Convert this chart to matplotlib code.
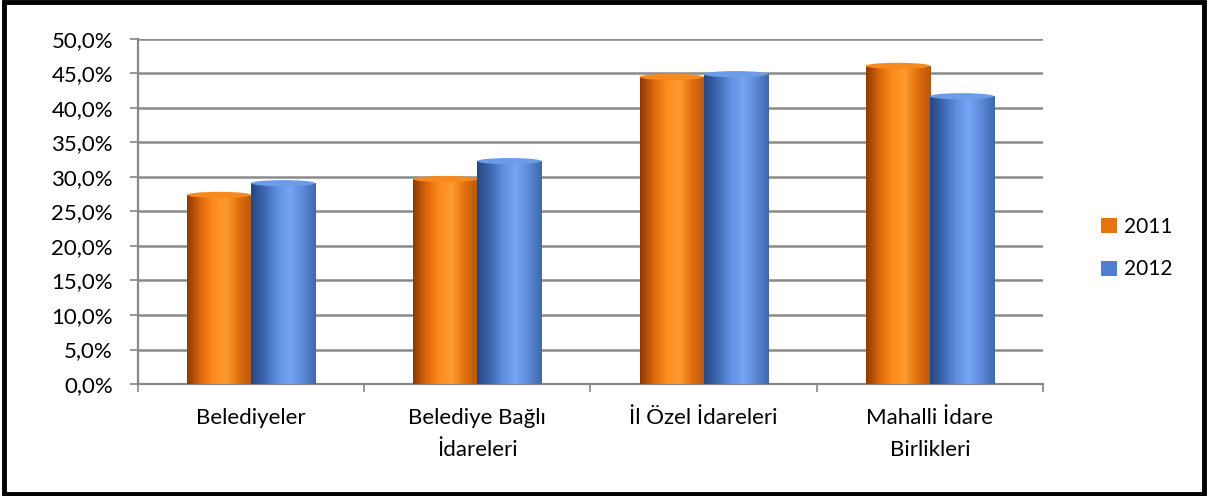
import numpy as np
import matplotlib
matplotlib.use("Agg")
import matplotlib.pyplot as plt
from matplotlib.colors import LinearSegmentedColormap
from matplotlib.patches import Ellipse, Rectangle
from matplotlib.ticker import FuncFormatter

plt.rcParams['font.family'] = ['Lato', 'DejaVu Sans']

categories = ["Belediyeler", "Belediye Bağlı\nİdareleri", "İl Özel İdareleri", "Mahalli İdare\nBirlikleri"]
years = ["2011", "2012"]
values_2011 = [27.4, 29.7, 44.5, 46.1]
values_2012 = [29.1, 32.3, 44.9, 41.7]

orange_cmap = LinearSegmentedColormap.from_list(
    "org", ["#8a3a08", "#d8650c", "#ff8a1c", "#ff9a30", "#e0700e", "#b8560a"])
blue_cmap = LinearSegmentedColormap.from_list(
    "blu", ["#27467e", "#3d66b0", "#5f8ee0", "#75a5f5", "#5c88d6", "#3f67ad"])
cap_colors = ["#f68a20", "#6c9ce8"]
face_colors = ["#e8740f", "#4f7fd0"]

fig = plt.figure(figsize=(12.08, 4.96), dpi=100)
ax = fig.add_axes([0.1142, 0.2258, 0.7492, 0.6956])

x = np.arange(len(categories))
w = 0.283
grad = np.linspace(0, 1, 256).reshape(1, -1)

series = [values_2011, values_2012]
cmaps = [orange_cmap, blue_cmap]
handles = []
for i, vals in enumerate(series):
    offs = (i - 0.5) * w
    bars = ax.bar(x + offs, vals, width=w, color=face_colors[i], zorder=3,
                  label=years[i], linewidth=0)
    handles.append(bars)
    for b in bars:
        bx, by = b.get_x(), b.get_y()
        bw, bh = b.get_width(), b.get_height()
        im = ax.imshow(grad, cmap=cmaps[i], aspect='auto', zorder=3.5,
                       extent=[bx, bx + bw, by, by + bh], interpolation='bicubic')
        im.set_clip_path(b)
        cap = Ellipse((bx + bw / 2, by + bh), bw, 0.9, facecolor=cap_colors[i],
                      edgecolor='none', zorder=4)
        ax.add_patch(cap)

ax.set_xlim(-0.5, len(categories) - 0.5)
ax.set_ylim(0, 50)
ax.set_yticks(np.arange(0, 51, 5))
ax.yaxis.set_major_formatter(FuncFormatter(lambda v, p: f"{v:.1f}%".replace(".", ",")))
ax.set_xticks(x)
ax.set_xticklabels(categories, fontsize=16, linespacing=1.8)
ax.set_xticks(np.arange(-0.5, len(categories)), minor=True)
ax.tick_params(axis='x', which='major', length=0, pad=17)
ax.tick_params(axis='x', which='minor', length=6, color='#888888', width=1.2)
ax.tick_params(axis='y', length=6, color='#888888', width=1.2, labelsize=16, pad=12)
ax.grid(axis='y', color='#8a8a8a', linewidth=1.8, zorder=0)
ax.set_axisbelow(True)
for s in ['top', 'right']:
    ax.spines[s].set_visible(False)
for s in ['left', 'bottom']:
    ax.spines[s].set_color('#888888')
    ax.spines[s].set_linewidth(1.6)

leg = fig.legend(handles=handles, labels=years, loc='center left',
                 bbox_to_anchor=(0.896, 0.5), frameon=False, fontsize=15,
                 handlelength=0.75, handleheight=0.75, labelspacing=1.1, handletextpad=0.35)

fig.patches.append(Rectangle((0.003, 0.005), 0.994, 0.99, transform=fig.transFigure,
                             fill=False, edgecolor='black', linewidth=3.5))

fig.savefig("out.png", dpi=100)
